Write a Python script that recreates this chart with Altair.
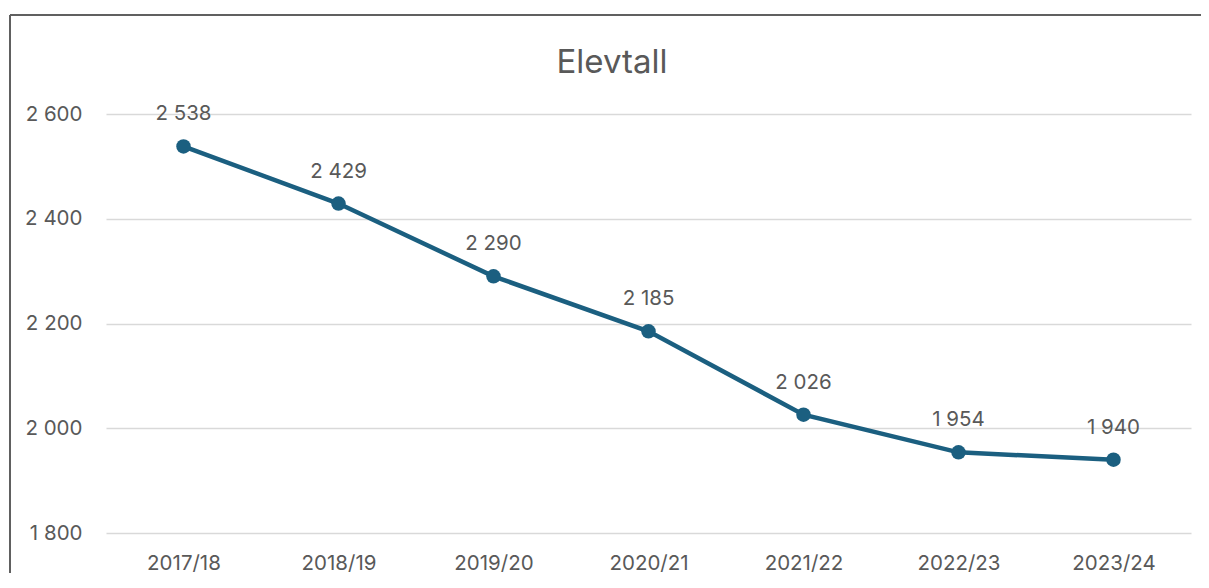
import altair as alt
import pandas as pd

categories = ["2017/18", "2018/19", "2019/20", "2020/21", "2021/22", "2022/23", "2023/24"]
values = [2538, 2429, 2290, 2185, 2026, 1954, 1940]
y_ticks = [1800, 2000, 2200, 2400, 2600]
title_text = ["Elevtall"]

df = pd.DataFrame({"year": categories, "elever": values})
tdf = pd.DataFrame({"t": title_text})

FONT = "Inter"
TXT = "#595959"
LINE = "#1b5f80"
FS = 20.5

x = alt.X("year:O", sort=categories, title=None,
          scale=alt.Scale(type="point", padding=0.5),
          axis=alt.Axis(labelAngle=0, labelFontSize=FS, labelColor=TXT, labelFont=FONT,
                        labelPadding=20, ticks=False, domain=False, grid=False))
y = alt.Y("elever:Q", title=None,
          scale=alt.Scale(domain=[1800, 2600], nice=False, zero=False),
          axis=alt.Axis(values=y_ticks, format=",d", labelFontSize=FS, labelColor=TXT,
                        labelFont=FONT, labelPadding=24, ticks=False, domain=False,
                        grid=True, gridColor="#d9d9d9", gridWidth=1.5))

base = alt.Chart(df)

line = base.mark_line(color=LINE, strokeWidth=4.5).encode(x=x, y=y)
points = base.mark_point(filled=True, opacity=1, color=LINE, size=210).encode(x=x, y=y)
labels = base.mark_text(fontSize=FS, color=TXT, font=FONT, dy=-32, baseline="middle").encode(
    x=x, y=y, text=alt.Text("elever:Q", format=",d"))

frame_top = alt.Chart(df).mark_rule(color="#606060", strokeWidth=1.5, clip=False).encode(
    x=alt.value(-96), x2=alt.value(1200), y=alt.value(-99))
frame_left = alt.Chart(df).mark_rule(color="#606060", strokeWidth=1.5, clip=False).encode(
    x=alt.value(-96), y=alt.value(-99), y2=alt.value(600))

title = alt.Chart(tdf).mark_text(fontSize=33, font=FONT, color=TXT, baseline="middle",
                                 align="center", clip=False).encode(
    x=alt.value(506), y=alt.value(-51), text="t:N")

chart = alt.layer(frame_top, frame_left, line, points, labels, title).properties(
    width=1085, height=419,
    padding={"left": 98, "top": 106, "right": 10, "bottom": 40},
    autosize=alt.AutoSizeParams(type="none"),
).configure(
    locale={"number": {"decimal": ",", "thousands": "\u00a0", "grouping": [3],
                       "currency": ["", " kr"]}}
).configure_view(stroke=None)

chart.save("out.html", embed_options={"renderer": "svg", "actions": False})
